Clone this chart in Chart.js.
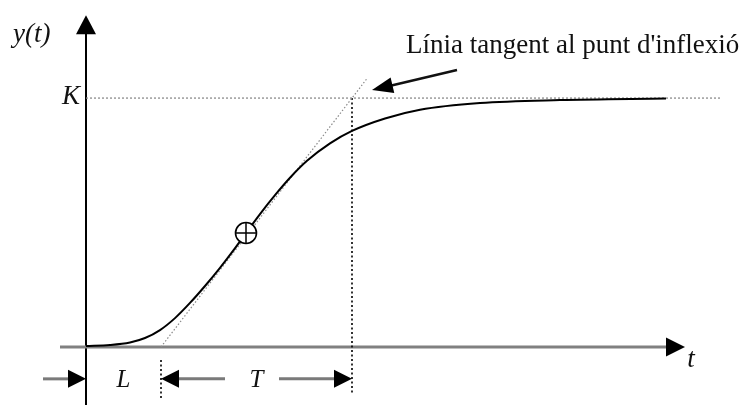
<!DOCTYPE html>
<html>
<head>
<meta charset="utf-8">
<script src="https://cdn.jsdelivr.net/npm/chart.js@4.4.1/dist/chart.umd.min.js"></script>
<style>
  html, body { margin: 0; padding: 0; background: #ffffff; }
  #wrap { width: 747px; height: 405px; }
</style>
</head>
<body>
<div id="wrap"><canvas id="c" width="747" height="405"></canvas></div>
<script>
// Step response y(t) of a process: S-shaped curve settling at K
const timeValues = [0, 2.4, 4.4, 5.9, 7.4, 8.9, 10.4, 11.9, 13.4, 14.7, 16.0, 17.4, 18.9, 20.4, 22.1, 24.4, 26.6, 29.9, 33.4, 39.4, 47.4, 58.0];
const responseValues = [0.004, 0.008, 0.018, 0.036, 0.068, 0.116, 0.177, 0.245, 0.318, 0.386, 0.458, 0.534, 0.610, 0.680, 0.748, 0.818, 0.868, 0.918, 0.953, 0.980, 0.992, 0.998];

// Characteristic parameters read from the tangent construction
const gainK = 1;
const deadTimeL = 7.5;
const timeConstantT = 19.1;
const inflectionT = 16.0;
const inflectionY = 0.458;

// Visible extent of the axes (data units)
const timeRange = [-8.6, 66.1];
const valueRange = [-0.233, 1.394];
const timeAxisStart = -2.6;
const timeAxisTip = 59.9;
const valueAxisTip = 1.333;
const gainLineEnd = 63.4;
const tangentReach = 1.08;      // tangent drawn up to this multiple of K
const dimensionLevel = -0.128;  // height of the L / T dimension arrows

// Texts
const valueAxisTitle = 'y(t)';
const timeAxisTitle = 't';
const gainLabel = 'K';
const deadTimeLabel = 'L';
const timeConstantLabel = 'T';
const calloutText = "Línia tangent al punt d'inflexió";

const curvePoints = timeValues.map((t, i) => ({ x: t, y: responseValues[i] }));
const settle = deadTimeL + timeConstantT;

function arrow(ctx, x0, y0, x1, y1, headLen, headHalf, lineColor, lineWidth) {
  const a = Math.atan2(y1 - y0, x1 - x0);
  const bx = x1 - Math.cos(a) * headLen, by = y1 - Math.sin(a) * headLen;
  ctx.save();
  ctx.strokeStyle = lineColor;
  ctx.lineWidth = lineWidth;
  ctx.beginPath();
  ctx.moveTo(x0, y0);
  ctx.lineTo(bx + Math.cos(a) * 1, by + Math.sin(a) * 1);
  ctx.stroke();
  ctx.fillStyle = '#000';
  ctx.beginPath();
  ctx.moveTo(x1, y1);
  ctx.lineTo(bx - Math.sin(a) * headHalf, by + Math.cos(a) * headHalf);
  ctx.lineTo(bx + Math.sin(a) * headHalf, by - Math.cos(a) * headHalf);
  ctx.closePath();
  ctx.fill();
  ctx.restore();
}

const annotations = {
  id: 'annotations',
  afterDatasetsDraw(chart) {
    const ctx = chart.ctx;
    const xs = chart.scales.x, ys = chart.scales.y;
    const X = v => xs.getPixelForValue(v), Y = v => ys.getPixelForValue(v);

    // axis arrowheads
    arrow(ctx, X(0), Y(valueAxisTip) + 19, X(0), Y(valueAxisTip), 19, 10, '#000', 2);
    arrow(ctx, X(timeAxisTip) - 19, Y(0), X(timeAxisTip), Y(0), 19, 9.5, '#808080', 3);

    // dimension arrows for L and T
    const dy = Y(dimensionLevel);
    arrow(ctx, X(0) - 43, dy, X(0), dy, 18, 9, '#7a7a7a', 3);
    arrow(ctx, X(deadTimeL) + 64, dy, X(deadTimeL), dy, 18, 9, '#7a7a7a', 3);
    arrow(ctx, X(settle) - 73, dy, X(settle), dy, 18, 9, '#7a7a7a', 3);

    // callout arrow towards the tangent line
    const ax = X(settle), ay = Y(gainK);
    arrow(ctx, ax + 105, ay - 28, ax + 20, ay - 8, 21, 8, '#111', 2.5);

    ctx.save();
    ctx.fillStyle = '#111';
    ctx.textBaseline = 'alphabetic';
    ctx.font = '27px "Liberation Serif", "Times New Roman", serif';
    ctx.textAlign = 'left';
    ctx.fillText(calloutText, ax + 54, ay - 45);

    ctx.font = 'italic 27px "Liberation Serif", "Times New Roman", serif';
    ctx.textAlign = 'left';
    ctx.fillText(valueAxisTitle, X(0) - 73, Y(valueAxisTip) + 27);
    ctx.textAlign = 'right';
    ctx.fillText(gainLabel, X(0) - 6, Y(gainK) + 6);
    ctx.textAlign = 'center';
    ctx.fillText(timeAxisTitle, X(timeAxisTip) + 6, Y(0) + 20);
    ctx.font = 'italic 25px "Liberation Serif", "Times New Roman", serif';
    ctx.fillText(deadTimeLabel, (X(0) + X(deadTimeL)) / 2, dy + 8);
    ctx.fillText(timeConstantLabel, (X(deadTimeL) + X(settle)) / 2 + 0, dy + 8);
    ctx.restore();
  }
};

const segment = (pts, color, width, dash) => ({
  data: pts, showLine: true, pointRadius: 0, borderColor: color,
  borderWidth: width, borderDash: dash || [], fill: false
});

new Chart(document.getElementById('c'), {
  type: 'scatter',
  data: {
    datasets: [
      // inflection point marker (circle with cross)
      { data: [{ x: inflectionT, y: inflectionY }], pointStyle: 'cross', pointRadius: 10.5,
        borderColor: '#000', borderWidth: 1.5, backgroundColor: '#000' },
      { data: [{ x: inflectionT, y: inflectionY }], pointStyle: 'circle', pointRadius: 10.5,
        borderColor: '#000', borderWidth: 1.6, backgroundColor: '#fff' },
      // response curve
      { data: curvePoints, showLine: true, pointRadius: 0, borderColor: '#000', borderWidth: 2,
        cubicInterpolationMode: 'monotone', fill: false },
      // tangent at the inflection point
      segment([{ x: deadTimeL, y: 0 }, { x: deadTimeL + tangentReach * timeConstantT, y: tangentReach * gainK }], '#8a8a8a', 1.2, [1.5, 2]),
      // final value K
      segment([{ x: 0, y: gainK }, { x: gainLineEnd, y: gainK }], '#8c8c8c', 1.3, [2, 2]),
      // L + T marker
      segment([{ x: settle, y: gainK }, { x: settle, y: -0.19 }], '#000', 1.6, [2, 2.5]),
      // L marker below the time axis
      segment([{ x: deadTimeL, y: -0.052 }, { x: deadTimeL, y: -0.213 }], '#000', 1.6, [2, 2.5]),
      // axes
      segment([{ x: timeAxisStart, y: 0 }, { x: timeAxisTip - 1.7, y: 0 }], '#808080', 3),
      segment([{ x: 0, y: valueRange[0] }, { x: 0, y: valueAxisTip - 0.07 }], '#000', 2)
    ]
  },
  options: {
    responsive: false,
    animation: false,
    events: [],
    layout: { padding: 0, autoPadding: false },
    plugins: { legend: { display: false }, tooltip: { enabled: false } },
    scales: {
      x: { type: 'linear', display: false, min: timeRange[0], max: timeRange[1] },
      y: { type: 'linear', display: false, min: valueRange[0], max: valueRange[1] }
    }
  },
  plugins: [annotations]
});
</script>
</body>
</html>
